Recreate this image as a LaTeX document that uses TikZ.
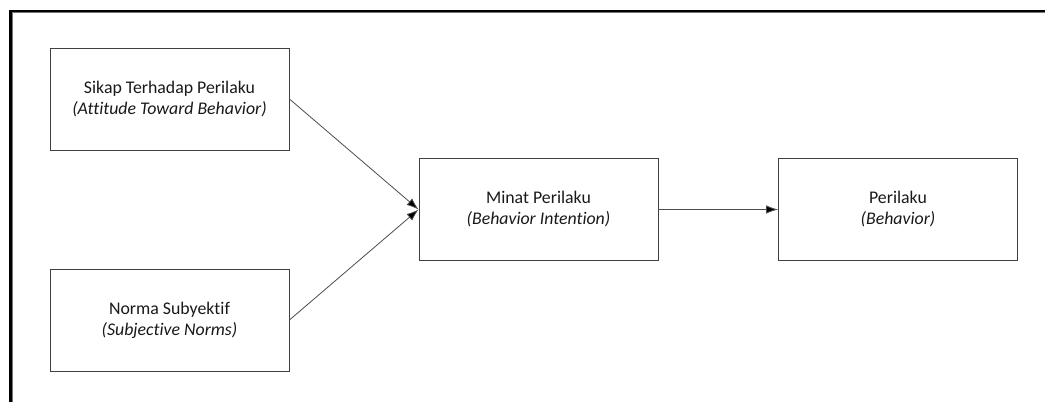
\documentclass[tikz,border=0pt]{standalone}
\usepackage{fontspec}
\setmainfont{Carlito}[Ligatures=NoCommon]
\usetikzlibrary{arrows.meta}

\tikzset{
    konsep/.style={draw=black!75,line width=0.9pt,minimum width=239pt,minimum height=102pt,
        align=center,text=black!90,font=\fontsize{17.8}{21}\selectfont,inner sep=0pt},
    panah/.style={-{Latex[length=12pt,width=8.5pt,fill=black]},line width=0.8pt,draw=black!70}
}

\begin{document}
\begin{tikzpicture}[x=1pt, y=-1pt]
    \useasboundingbox (0,0) rectangle (1045,402);

%bingkai
    \draw[black,line width=2.2pt] (10.5,402) -- (10.5,11) -- (1045,11);
    \draw[black!55,line width=1pt] (12.3,402) -- (12.3,12.6) -- (1045,12.6);

%kotak
    \node[konsep] (sikap) at (169.5,99) {Sikap Terhadap Perilaku\\\textit{(Attitude Toward Behavior)}};
    \node[konsep] (norma) at (169.5,320) {Norma Subyektif\\\textit{(Subjective Norms)}};
    \node[konsep] (minat) at (538.5,209.5) {Minat Perilaku\\\textit{(Behavior Intention)}};
    \node[konsep] (perilaku) at (898,209.5) {Perilaku\\\textit{(Behavior)}};

%panah
    \draw[panah] (sikap.east) -- (minat.west);
    \draw[panah] (norma.east) -- (minat.west);
    \draw[panah] (minat.east) -- (perilaku.west);

\end{tikzpicture}
\end{document}
